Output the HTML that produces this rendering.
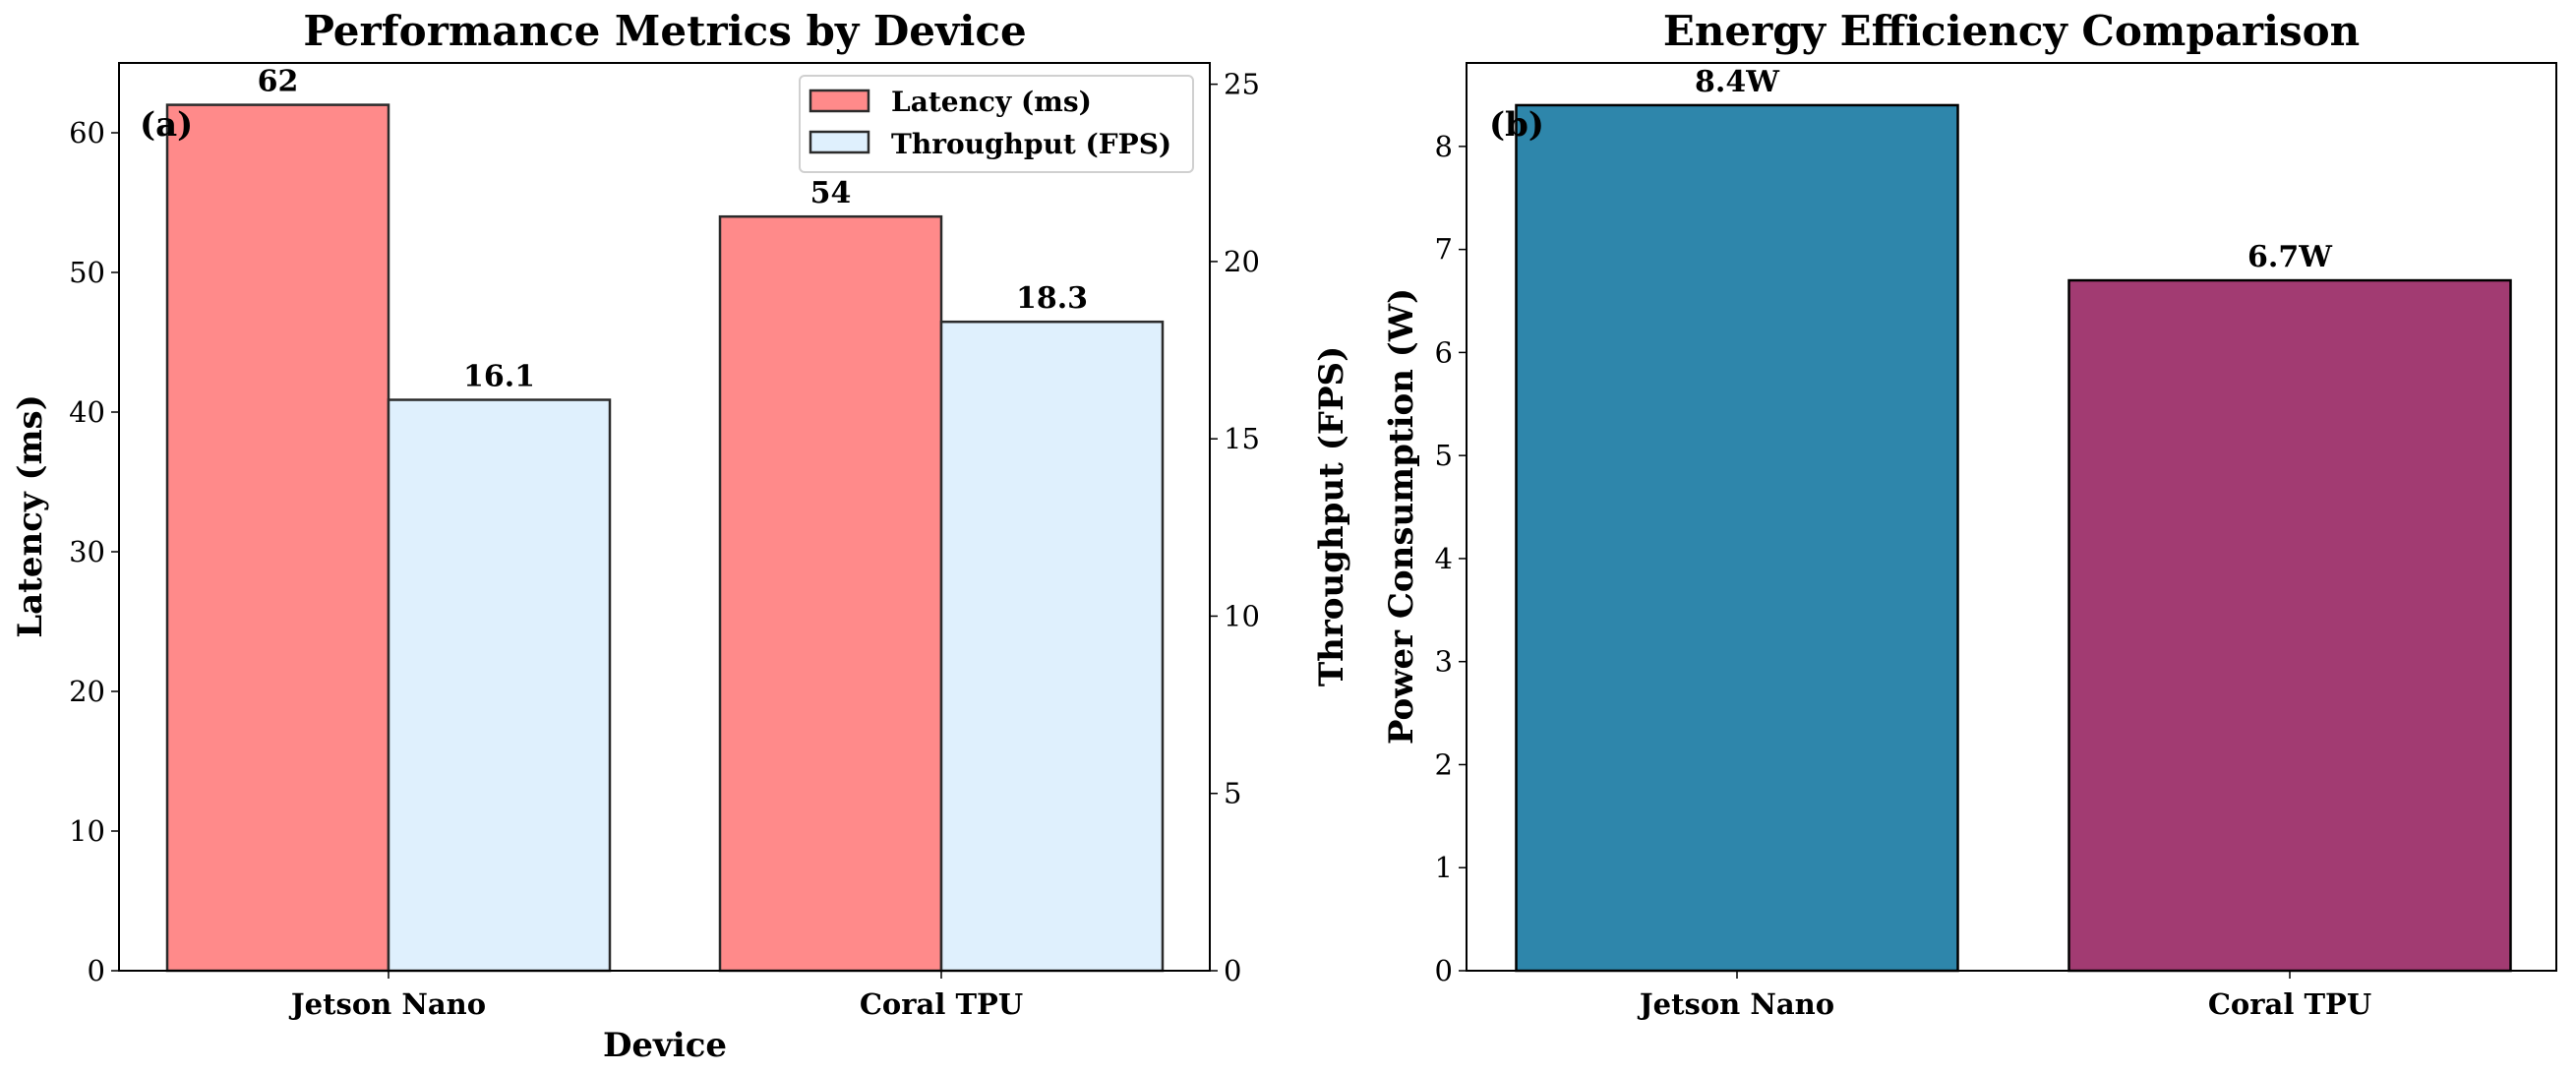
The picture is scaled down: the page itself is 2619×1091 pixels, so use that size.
<!DOCTYPE html>
<html><head><meta charset="utf-8"><style>
html,body{margin:0;padding:0;background:#fff}
svg{display:block;font-family:"DejaVu Serif","Liberation Serif",serif}
</style></head><body>
<svg id="chart" width="2619" height="1091" viewBox="0 0 2619 1091" xmlns="http://www.w3.org/2000/svg"></svg>
<script>
const categories = ["Jetson Nano", "Coral TPU"];
const latency = [62, 54];
const throughput = [16.1, 18.3];
const power = [8.4, 6.7];
const powerLabels = ["8.4W", "6.7W"];
const latencyTicks = [0, 10, 20, 30, 40, 50, 60];
const throughputTicks = [0, 5, 10, 15, 20, 25];
const powerTicks = [0, 1, 2, 3, 4, 5, 6, 7, 8];

const svg = document.getElementById('chart');
const NS = 'http://www.w3.org/2000/svg';
function mk(tag, attrs, text, parent) {
  const e = document.createElementNS(NS, tag);
  for (const k in attrs) e.setAttribute(k, attrs[k]);
  if (text !== undefined) e.textContent = text;
  (parent || svg).appendChild(e);
  return e;
}
const TICK = 29, VAL = 30, AX = 34, TTL = 42;

// Left panel
const L = {x0: 121, x1: 1230, y0: 987, y1: 64};
const yLat = v => L.y0 - v / 65 * (L.y0 - L.y1);
const yThr = v => L.y0 - v / 25.6 * (L.y0 - L.y1);
const catL = [395, 957];
const bw = 225;

const g1 = mk('g', {});


categories.forEach((c, i) => {
  let r = mk('rect', {x: catL[i] - bw, y: yLat(latency[i]), width: bw, height: L.y0 - yLat(latency[i]), fill: '#ff8a8a', stroke: '#2b2b2b', 'stroke-width': 2.5}, undefined, g1);
  
  
  let t = mk('text', {x: catL[i] - bw / 2, y: yLat(latency[i]) - 14, 'text-anchor': 'middle', 'font-size': VAL, 'font-weight': 'bold'}, String(latency[i]), g1);
  
  
  r = mk('rect', {x: catL[i], y: yThr(throughput[i]), width: bw, height: L.y0 - yThr(throughput[i]), fill: '#dff0fd', stroke: '#2b2b2b', 'stroke-width': 2.5}, undefined, g1);
  
  
  t = mk('text', {x: catL[i] + bw / 2, y: yThr(throughput[i]) - 14, 'text-anchor': 'middle', 'font-size': VAL, 'font-weight': 'bold'}, throughput[i].toFixed(1), g1);
  
  
  const xt = mk('text', {x: catL[i], y: 1031, 'text-anchor': 'middle', 'font-size': TICK, 'font-weight': 'bold'}, c, g1);
  
  
  mk('line', {x1: catL[i], x2: catL[i], y1: L.y0, y2: L.y0 + 8, stroke: '#000', 'stroke-width': 1.5}, undefined, g1);
});
mk('rect', {x: L.x0, y: L.y1, width: L.x1 - L.x0, height: L.y0 - L.y1, fill: 'none', stroke: '#000', 'stroke-width': 2}, undefined, g1);
latencyTicks.forEach(v => {
  mk('line', {x1: L.x0 - 8, x2: L.x0, y1: yLat(v), y2: yLat(v), stroke: '#000', 'stroke-width': 1.5}, undefined, g1);
  const t = mk('text', {x: L.x0 - 14, y: yLat(v) + 10, 'text-anchor': 'end', 'font-size': TICK}, String(v), g1);
  
  
});
throughputTicks.forEach(v => {
  mk('line', {x1: L.x1, x2: L.x1 + 8, y1: yThr(v), y2: yThr(v), stroke: '#000', 'stroke-width': 1.5}, undefined, g1);
  const t = mk('text', {x: L.x1 + 14, y: yThr(v) + 10, 'text-anchor': 'start', 'font-size': TICK}, String(v), g1);
  
  
});
let tt = mk('text', {x: 676, y: 46, 'text-anchor': 'middle', 'font-size': TTL, 'font-weight': 'bold'}, 'Performance Metrics by Device', g1);
 
tt = mk('text', {x: 676, y: 1074, 'text-anchor': 'middle', 'font-size': AX, 'font-weight': 'bold'}, 'Device', g1);
 
tt = mk('text', {x: 0, y: 0, transform: 'translate(42,525) rotate(-90)', 'text-anchor': 'middle', 'font-size': AX, 'font-weight': 'bold'}, 'Latency (ms)', g1);
 
tt = mk('text', {x: 0, y: 0, transform: 'translate(1365,525) rotate(-90)', 'text-anchor': 'middle', 'font-size': AX, 'font-weight': 'bold'}, 'Throughput (FPS)', g1);
 
tt = mk('text', {x: 142, y: 138, 'font-size': 34, 'font-weight': 'bold'}, '(a)', g1);
 

// legend
const lg = mk('g', {}, undefined, g1);


mk('rect', {x: 813, y: 77, width: 400, height: 98, rx: 5, fill: '#fff', 'fill-opacity': 0.85, stroke: '#d0d0d0', 'stroke-width': 2}, undefined, lg);
mk('rect', {x: 824, y: 92, width: 59, height: 21, fill: '#ff8a8a', stroke: '#2b2b2b', 'stroke-width': 2.5}, undefined, lg);
mk('rect', {x: 824, y: 134, width: 59, height: 21, fill: '#dff0fd', stroke: '#2b2b2b', 'stroke-width': 2.5}, undefined, lg);
let le = mk('text', {x: 906, y: 113, 'font-size': 28, 'font-weight': 'bold'}, 'Latency (ms)', lg);
 
le = mk('text', {x: 906, y: 156, 'font-size': 28, 'font-weight': 'bold'}, 'Throughput (FPS)', lg);
 

// Right panel
const R = {x0: 1491, x1: 2599, y0: 987, y1: 64};
const yP = v => R.y0 - v / 8.81 * (R.y0 - R.y1);
const catR = [1766, 2328];
const bw2 = 449;
const colors = ['#2e86ab', '#a23b72'];
const g2 = mk('g', {});


categories.forEach((c, i) => {
  const r = mk('rect', {x: catR[i] - bw2 / 2, y: yP(power[i]), width: bw2, height: R.y0 - yP(power[i]), fill: colors[i], stroke: '#000', 'stroke-width': 2.5}, undefined, g2);
  
  
  let t = mk('text', {x: catR[i], y: yP(power[i]) - 14, 'text-anchor': 'middle', 'font-size': VAL, 'font-weight': 'bold'}, powerLabels[i], g2);
  
  
  t = mk('text', {x: catR[i], y: 1031, 'text-anchor': 'middle', 'font-size': TICK, 'font-weight': 'bold'}, c, g2);
  
  
  mk('line', {x1: catR[i], x2: catR[i], y1: R.y0, y2: R.y0 + 8, stroke: '#000', 'stroke-width': 1.5}, undefined, g2);
});
mk('rect', {x: R.x0, y: R.y1, width: R.x1 - R.x0, height: R.y0 - R.y1, fill: 'none', stroke: '#000', 'stroke-width': 2}, undefined, g2);
powerTicks.forEach(v => {
  mk('line', {x1: R.x0 - 8, x2: R.x0, y1: yP(v), y2: yP(v), stroke: '#000', 'stroke-width': 1.5}, undefined, g2);
  const t = mk('text', {x: R.x0 - 14, y: yP(v) + 10, 'text-anchor': 'end', 'font-size': TICK}, String(v), g2);
  
  
});
tt = mk('text', {x: 2045, y: 46, 'text-anchor': 'middle', 'font-size': TTL, 'font-weight': 'bold'}, 'Energy Efficiency Comparison', g2);
 
tt = mk('text', {x: 0, y: 0, transform: 'translate(1436,525) rotate(-90)', 'text-anchor': 'middle', 'font-size': AX, 'font-weight': 'bold'}, 'Power Consumption (W)', g2);
 
tt = mk('text', {x: 1514, y: 138, 'font-size': 34, 'font-weight': 'bold'}, '(b)', g2);
 
</script>
</body></html>
